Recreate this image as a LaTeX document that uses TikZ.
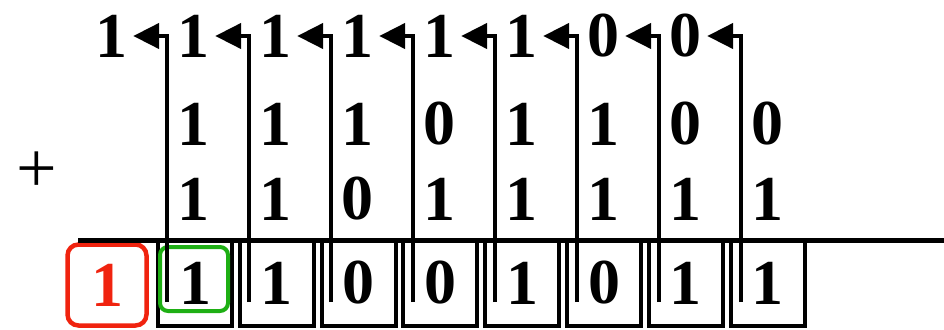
\documentclass[tikz,border=0pt]{standalone}
\usepackage{fontspec}
\setmainfont{Liberation Serif}
\usetikzlibrary{arrows.meta}
\definecolor{sumred}{RGB}{240,35,15}
\definecolor{boxgreen}{RGB}{30,175,20}
\tikzset{
  digit/.style={font=\fontsize{64}{64}\selectfont\bfseries, inner sep=0pt},
  sumbox/.style={digit, draw, line width=4pt, minimum width=74pt, minimum height=86pt},
  carry/.style={line width=4.5pt, -{Triangle[length=26pt,width=25pt]}, shorten >=6pt},
}
\begin{document}
\begin{tikzpicture}[x=1pt,y=-1pt]
\useasboundingbox (0,0) rectangle (944,329);

% Carry row
\foreach \d [count=\i] in {1,1,1,1,1,1,0,0}
  \node[digit] (c\i) at ({193+82*(\i-2)},36) {\d};

% Addends
\foreach \d [count=\i] in {1,1,1,0,1,1,0,0}
  \node[digit] (a\i) at ({193+82*(\i-1)},124) {\d};
\foreach \d [count=\i] in {1,1,0,1,1,1,1,1}
  \node[digit] (b\i) at ({193+82*(\i-1)},199) {\d};
\node[font=\fontsize{72}{72}\selectfont] (plus) at (37,172) {+};

% Result
\foreach \d [count=\i] in {1,1,0,0,1,0,1,1}
  \node[sumbox] (r\i) at ({195+81.8*(\i-1)},283) {\d};
\node[digit, text=sumred, draw=sumred, line width=4.5pt, rounded corners=11pt,
  minimum width=79pt, minimum height=81pt] (r0) at (107,285) {1};
\node[draw=boxgreen, line width=4pt, rounded corners=8pt,
  minimum width=68pt, minimum height=64pt] (g) at (194,279) {};

% Sum line
\draw[line width=5pt] (78,240) -- (944,240);

% Carry arrows
\foreach \i in {1,...,8} {
  \coordinate (s\i) at ({167+82*(\i-1)},302);
  \draw[carry] (s\i) |- (c\i.east);
}

\end{tikzpicture}
\end{document}
